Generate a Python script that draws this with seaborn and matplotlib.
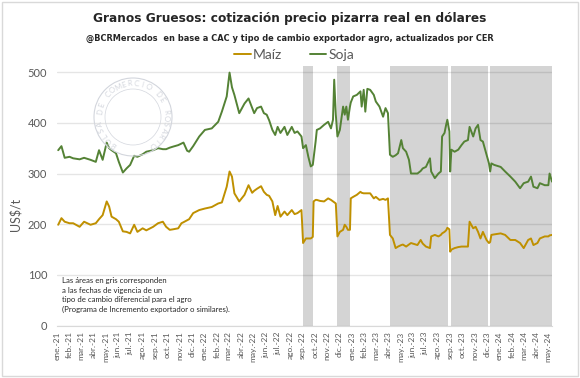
import numpy as np
import pandas as pd
import matplotlib
matplotlib.use("Agg")
import matplotlib.pyplot as plt
from matplotlib.patches import Rectangle, Circle
import seaborn as sns


# Valores (US$/t)
fechas = [
    "2021-01-04", "2021-01-12", "2021-01-20", "2021-02-01", "2021-02-10", "2021-02-26",
    "2021-03-09", "2021-03-25", "2021-04-07", "2021-04-15", "2021-04-24", "2021-05-04",
    "2021-05-10", "2021-05-16", "2021-05-27", "2021-06-03", "2021-06-13", "2021-06-22",
    "2021-07-01", "2021-07-11", "2021-07-19", "2021-08-01", "2021-08-10", "2021-08-27",
    "2021-09-08", "2021-09-20", "2021-09-28", "2021-10-07", "2021-10-15", "2021-10-28",
    "2021-11-05", "2021-11-10", "2021-11-19", "2021-11-24", "2021-12-04", "2021-12-19",
    "2022-01-02", "2022-01-19", "2022-02-04", "2022-02-13", "2022-02-25", "2022-03-04",
    "2022-03-10", "2022-03-16", "2022-03-28", "2022-04-10", "2022-04-20", "2022-04-29",
    "2022-05-04", "2022-05-11", "2022-05-21", "2022-05-28", "2022-06-04", "2022-06-10",
    "2022-06-18", "2022-06-25", "2022-07-01", "2022-07-08", "2022-07-18", "2022-07-25",
    "2022-08-05", "2022-08-12", "2022-08-19", "2022-08-29", "2022-09-02", "2022-09-09",
    "2022-09-15", "2022-09-21", "2022-09-26", "2022-09-28", "2022-10-03", "2022-10-06",
    "2022-10-14", "2022-10-24", "2022-11-03", "2022-11-10", "2022-11-15", "2022-11-18",
    "2022-11-22", "2022-11-26", "2022-12-02", "2022-12-10", "2022-12-14", "2022-12-18",
    "2022-12-22", "2022-12-27", "2022-12-29", "2023-01-04", "2023-01-13", "2023-01-22",
    "2023-01-25", "2023-01-30", "2023-02-03", "2023-02-08", "2023-02-15", "2023-02-24",
    "2023-03-01", "2023-03-10", "2023-03-19", "2023-03-25", "2023-03-31", "2023-04-05",
    "2023-04-12", "2023-04-19", "2023-04-25", "2023-05-03", "2023-05-07", "2023-05-15",
    "2023-05-22", "2023-05-27", "2023-06-12", "2023-06-20", "2023-06-25", "2023-07-03",
    "2023-07-13", "2023-07-16", "2023-07-25", "2023-08-03", "2023-08-09", "2023-08-12",
    "2023-08-18", "2023-08-22", "2023-08-25", "2023-08-30", "2023-09-01", "2023-09-04",
    "2023-09-12", "2023-09-21", "2023-09-29", "2023-10-06", "2023-10-15", "2023-10-19",
    "2023-10-28", "2023-11-03", "2023-11-09", "2023-11-15", "2023-11-21", "2023-11-30",
    "2023-12-06", "2023-12-09", "2023-12-12", "2023-12-19", "2024-01-04", "2024-01-15",
    "2024-01-28", "2024-02-09", "2024-02-21", "2024-03-01", "2024-03-12", "2024-03-19",
    "2024-03-25", "2024-04-04", "2024-04-10", "2024-04-22", "2024-05-01", "2024-05-04",
    "2024-05-10",
]

soja = [
    346, 354, 331, 333, 330, 328, 331, 327, 323, 346, 327, 361,
    350, 346, 340, 323, 302, 310, 317, 335, 333, 338, 343, 346,
    350, 348, 348, 351, 353, 356, 359, 361, 345, 343, 354, 373,
    386, 389, 402, 422, 452, 499, 470, 455, 419, 438, 448, 429,
    419, 429, 432, 419, 416, 405, 386, 376, 392, 380, 392, 376,
    392, 380, 383, 373, 350, 356, 333, 314, 317, 330, 363, 386,
    389, 396, 402, 389, 406, 485, 416, 373, 386, 432, 416, 432,
    406, 432, 440, 452, 455, 462, 432, 465, 422, 467, 465, 455,
    442, 432, 412, 429, 419, 337, 333, 336, 340, 366, 350, 343,
    327, 300, 300, 305, 310, 313, 330, 304, 291, 300, 304, 373,
    380, 396, 406, 383, 304, 347, 343, 347, 356, 363, 366, 392,
    373, 389, 396, 366, 363, 337, 320, 304, 320, 317, 313, 304,
    294, 284, 271, 281, 284, 294, 274, 271, 281, 277, 277, 300,
    284,
]

maiz = [
    199, 212, 205, 202, 202, 195, 205, 199, 202, 210, 218, 245,
    235, 215, 210, 205, 186, 185, 182, 199, 185, 192, 188, 195,
    202, 205, 195, 189, 190, 192, 202, 204, 208, 210, 222, 228,
    231, 234, 241, 243, 274, 304, 294, 261, 245, 258, 277, 262,
    266, 270, 275, 264, 258, 256, 245, 218, 236, 215, 225, 218,
    228, 220, 222, 228, 163, 172, 172, 172, 175, 245, 248, 248,
    246, 245, 251, 248, 245, 243, 241, 176, 185, 189, 199, 195,
    189, 189, 251, 254, 258, 264, 262, 261, 261, 261, 261, 251,
    254, 248, 250, 248, 251, 179, 172, 153, 156, 159, 160, 156,
    160, 163, 159, 169, 162, 156, 153, 176, 179, 176, 179, 182,
    185, 188, 193, 190, 146, 150, 153, 155, 156, 156, 156, 205,
    192, 195, 185, 172, 185, 169, 163, 165, 179, 180, 182, 179,
    169, 169, 163, 153, 169, 172, 159, 163, 172, 176, 176, 178,
    179,
]

# Periodos con tipo de cambio diferencial (areas en gris)
gris_inicio = ["2022-09-02", "2022-11-24", "2023-04-04", "2023-09-02", "2023-12-09"]
gris_fin = ["2022-09-27", "2022-12-27", "2023-08-27", "2023-12-04", "2024-05-10"]

meses = ["ene.", "feb.", "mar.", "abr.", "may.", "jun.",
         "jul.", "ago.", "sep.", "oct.", "nov.", "dic."]

color_maiz = "#BF9000"
color_soja = "#548235"
gris_texto = "#595959"

n = len(fechas)
df = pd.DataFrame({
    "fecha": pd.to_datetime(fechas * 2),
    "precio": maiz + soja,
    "grano": ["Maíz"] * n + ["Soja"] * n,
})

sns.set_style("white")
plt.rcParams["font.family"] = ["Lato", "DejaVu Sans"]

fig = plt.figure(figsize=(5.8, 3.78), dpi=100)
ax = fig.add_axes([57 / 580, 1 - 325.7 / 378, 495 / 580, 259.7 / 378])

for ini, fin in zip(gris_inicio, gris_fin):
    ax.axvspan(pd.Timestamp(ini), pd.Timestamp(fin), color="#D4D4D4", lw=0, zorder=0)

sns.lineplot(data=df, x="fecha", y="precio", hue="grano",
             palette={"Maíz": color_maiz, "Soja": color_soja},
             linewidth=1.4, ax=ax, zorder=3)

ax.set_xlim(pd.Timestamp("2021-01-01"), pd.Timestamp("2024-05-10"))
ax.set_ylim(0, 512)
ax.set_yticks([0, 100, 200, 300, 400, 500])
ax.yaxis.grid(True, color="black", alpha=0.1, lw=1, zorder=1)
ax.set_axisbelow(False)
for s in ["top", "right", "left"]:
    ax.spines[s].set_visible(False)
ax.spines["bottom"].set_color("#D9D9D9")
ax.spines["bottom"].set_zorder(1)

# etiquetas mensuales
ticks = pd.date_range("2021-01-01", "2024-05-01", freq="MS")
ax.set_xticks(ticks)
ax.set_xticklabels([f"{meses[t.month - 1]}-{t.year % 100}" for t in ticks],
                   rotation=90, fontsize=6, color=gris_texto)
ax.tick_params(axis="x", length=0, pad=4)
ax.tick_params(axis="y", length=0, pad=7, labelsize=8, labelcolor=gris_texto)
ax.set_xlabel("")
ax.set_ylabel("US$/t", fontsize=9, color=gris_texto)
ax.yaxis.set_label_coords(-36 / 495, 0.43)

sns.move_legend(ax, "center", bbox_to_anchor=(0.479, 1 + 11 / 259.7), ncol=2,
                frameon=False, title=None, fontsize=10, handlelength=1.2,
                handletextpad=0.15, columnspacing=2.0, labelcolor=gris_texto)

fig.text(0.5, 1 - 18.5 / 378, "Granos Gruesos: cotización precio pizarra real en dólares",
         ha="center", va="center", fontsize=9.7, fontweight="bold",
         family="DejaVu Sans", fontstretch="condensed")
fig.text(0.5, 1 - 38 / 378,
         "@BCRMercados  en base a CAC y tipo de cambio exportador agro, actualizados por CER",
         ha="center", va="center", fontsize=6.6, fontweight="bold",
         family="DejaVu Sans", fontstretch="condensed")

fig.text(62 / 580, 1 - 277 / 378,
         "Las áreas en gris corresponden\na las fechas de vigencia de un\n"
         "tipo de cambio diferencial para el agro\n"
         "(Programa de Incremento exportador o similares).",
         ha="left", va="top", fontsize=5.6, linespacing=1.45, color="#262626")

# sello de agua
cx, cy, r = 1.33, (378 - 117) / 100, 0.39
marca = "#D3D6DD"
for rr, lw in [(r, 0.8), (0.28, 0.5)]:
    fig.patches.append(Circle((cx, cy), rr, transform=fig.dpi_scale_trans,
                              fill=False, edgecolor=marca, lw=lw, zorder=0))
letras = "BOLSA DE COMERCIO DE ROSARIO"
angulos = np.linspace(235, -55, len(letras))
for ch, a in zip(letras, angulos):
    rad = np.deg2rad(a)
    fig.text(cx + 0.335 * np.cos(rad), cy + 0.335 * np.sin(rad), ch,
             transform=fig.dpi_scale_trans, rotation=a - 90,
             ha="center", va="center", fontsize=5.5, color=marca, zorder=0)

fig.patches.append(Rectangle((0.003, 0.004), 0.993, 0.992, transform=fig.transFigure,
                             fill=False, edgecolor="#D9D9D9", lw=1))

fig.savefig("out.png", dpi=100)
